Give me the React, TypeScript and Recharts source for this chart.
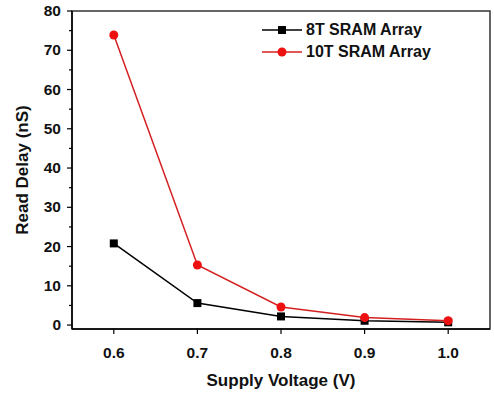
import React from 'react'
import {
  LineChart,
  Line,
  XAxis,
  YAxis,
  ReferenceArea,
} from 'recharts'

// supply voltage (V)
const voltages = [0.6, 0.7, 0.8, 0.9, 1.0]
// read delay (nS)
const sram8T = [20.8, 5.6, 2.2, 1.1, 0.7]
const sram10T = [73.9, 15.3, 4.6, 1.9, 1.1]

const xTicks = [0.6, 0.7, 0.8, 0.9, 1.0]
const yTicks = [0, 5, 10, 15, 20, 25, 30, 35, 40, 45, 50, 55, 60, 65, 70, 75, 80]

const seriesInfo = [
  { key: 'sram8T', name: '8T SRAM Array', color: '#000000', dot: 'square' },
  { key: 'sram10T', name: '10T SRAM Array', color: '#d42020', dot: 'circle' },
]

const data = voltages.map((v, i) => ({ v, sram8T: sram8T[i], sram10T: sram10T[i] }))

const FONT = '"Liberation Sans", Arial, sans-serif'

const SquareDot = (props: any) => {
  const { cx, cy } = props
  if (cx == null || cy == null) return null
  return <rect x={cx - 4} y={cy - 4} width={8} height={8} fill="#000" />
}

const CircleDot = (props: any) => {
  const { cx, cy } = props
  if (cx == null || cy == null) return null
  return <circle cx={cx} cy={cy} r={4.5} fill="#ee1111" />
}

const YTick = (props: any) => {
  const { x, y, payload } = props
  const major = payload.value % 10 === 0
  return (
    <g>
      <line x1={x - (major ? 5 : 3)} x2={x} y1={y} y2={y} stroke="#000" strokeWidth={1.2} />
      {major && (
        <text x={x - 11} y={y} dy={5} textAnchor="end" fontSize={15.5} fontWeight="bold" fontFamily={FONT} fill="#111">
          {payload.value}
        </text>
      )}
    </g>
  )
}

const XTick = (props: any) => {
  const { x, y, payload } = props
  return (
    <g>
      <line x1={x} x2={x} y1={y} y2={y + 5} stroke="#000" strokeWidth={1.2} />
      <text x={x} y={y + 29} textAnchor="middle" fontSize={15.5} fontWeight="bold" fontFamily={FONT} fill="#111">
        {payload.value.toFixed(1)}
      </text>
    </g>
  )
}

// legend drawn over the plot, top right
const ChartLegend = () => (
  <div style={{ position: 'absolute', left: 262, top: 19 }}>
    {seriesInfo.map((s) => (
      <div key={s.key} style={{ display: 'flex', alignItems: 'center', height: 22 }}>
        <svg width={40} height={14}>
          <line x1={0} x2={40} y1={7} y2={7} stroke={s.color} strokeWidth={1.5} />
          {s.dot === 'square' ? (
            <rect x={16} y={3} width={8} height={8} fill="#000" />
          ) : (
            <circle cx={20} cy={7} r={4.5} fill="#ee1111" />
          )}
        </svg>
        <span style={{ marginLeft: 4, fontFamily: FONT, fontWeight: 'bold', fontSize: 16, color: '#111' }}>
          {s.name}
        </span>
      </div>
    ))}
  </div>
)

export default function App() {
  return (
    <div style={{ position: 'absolute', left: 0, top: 0, width: 494, height: 394, background: '#fff' }}>
      <LineChart width={494} height={394} data={data} margin={{ top: 11, right: 4, left: 0, bottom: 0 }}>
        <XAxis
          dataKey="v"
          type="number"
          domain={[0.55, 1.05]}
          ticks={xTicks}
          tickLine={false}
          tickSize={0}
          tickMargin={0}
          tick={<XTick />}
          height={65}
          axisLine={{ stroke: '#000', strokeWidth: 1.5 }}
          label={{
            value: 'Supply Voltage (V)',
            position: 'insideBottom',
            offset: 8,
            style: { fontFamily: FONT, fontWeight: 'bold', fontSize: 17, fill: '#111' },
          }}
        />
        <YAxis
          type="number"
          domain={[-1, 80]}
          ticks={yTicks}
          interval={0}
          tickLine={false}
          tickSize={0}
          tickMargin={0}
          tick={<YTick />}
          width={72}
          axisLine={{ stroke: '#000', strokeWidth: 1.5 }}
          label={{
            value: 'Read Delay (nS)',
            angle: -90,
            position: 'insideLeft',
            offset: 22,
            style: { textAnchor: 'middle', fontFamily: FONT, fontWeight: 'bold', fontSize: 17, fill: '#111' },
          }}
        />
        <ReferenceArea
          x1={0.55}
          x2={1.05}
          y1={-1}
          y2={80}
          fill="none"
          stroke="#333"
          strokeWidth={1.5}
          ifOverflow="visible"
        />
        <Line
          dataKey="sram8T"
          name="8T SRAM Array"
          stroke="#000"
          strokeWidth={1.5}
          dot={<SquareDot />}
          isAnimationActive={false}
        />
        <Line
          dataKey="sram10T"
          name="10T SRAM Array"
          stroke="#d42020"
          strokeWidth={1.5}
          dot={<CircleDot />}
          isAnimationActive={false}
        />
      </LineChart>
      <ChartLegend />
    </div>
  )
}
